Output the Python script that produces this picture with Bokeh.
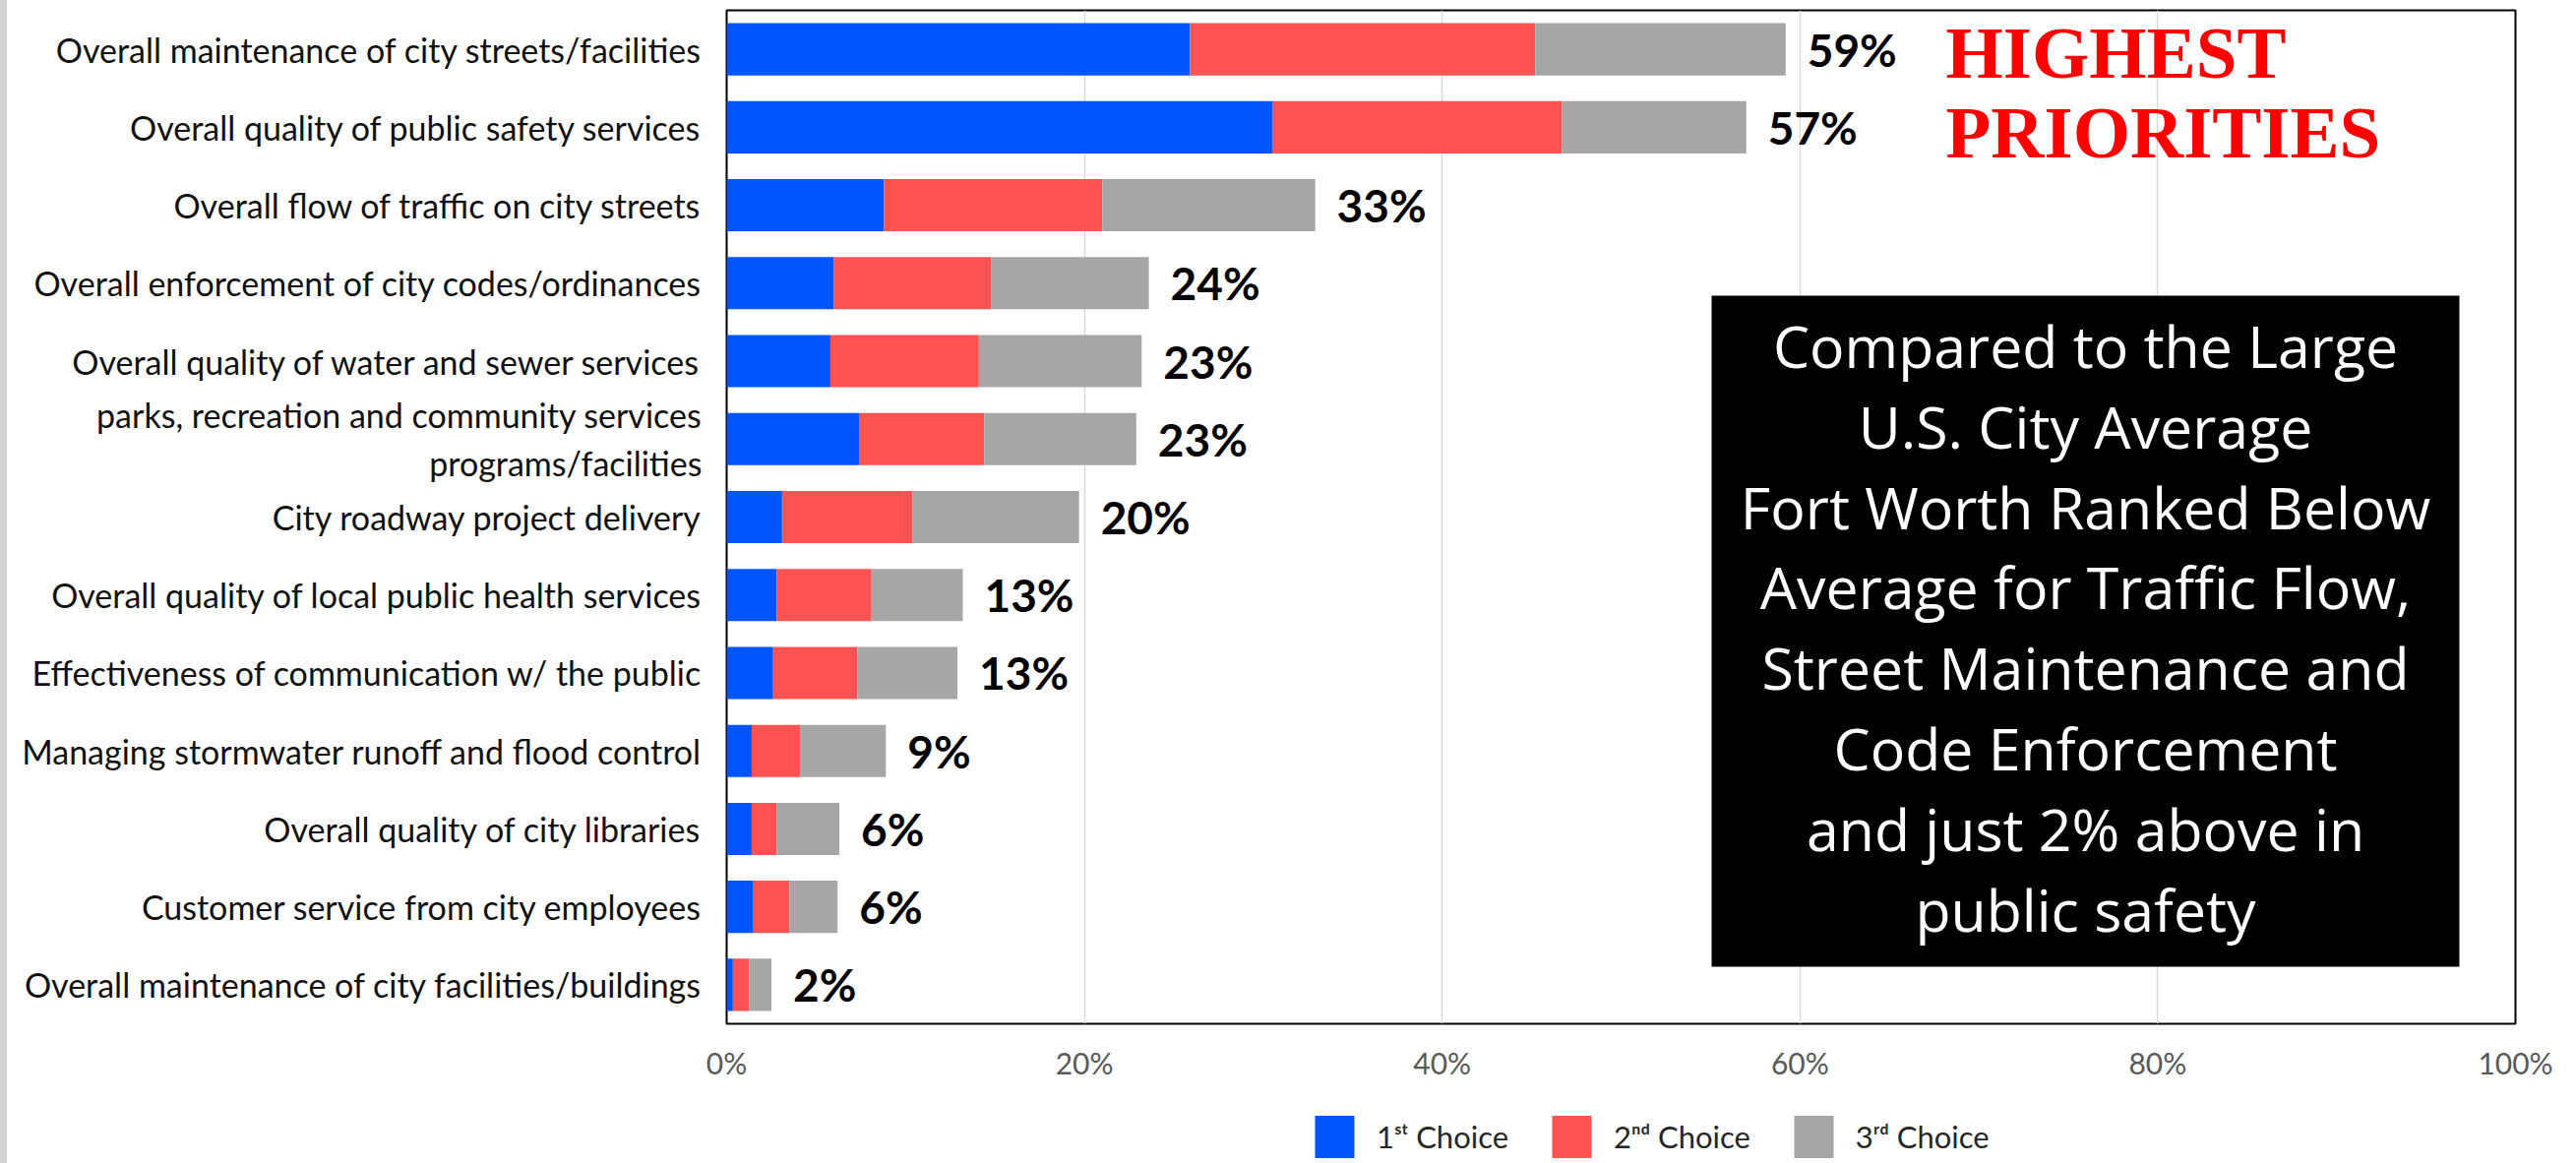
from bokeh.plotting import figure
from bokeh.models import (FactorRange, Range1d, FixedTicker, PrintfTickFormatter, Legend,
                          LegendItem, Label, BoxAnnotation, Div, ColumnDataSource)
from bokeh.layouts import row, column
from bokeh.embed import file_html
from bokeh.resources import INLINE
from bokeh.core.properties import value

categories = [
    "Overall maintenance of city streets/facilities",
    "Overall quality of public safety services",
    "Overall flow of traffic on city streets",
    "Overall enforcement of city codes/ordinances",
    "Overall quality of water and sewer services",
    "parks, recreation and community services\nprograms/facilities",
    "City roadway project delivery",
    "Overall quality of local public health services",
    "Effectiveness of communication w/ the public",
    "Managing stormwater runoff and flood control",
    "Overall quality of city libraries",
    "Customer service from city employees",
    "Overall maintenance of city facilities/buildings",
]
first_choice = [25.9, 30.5, 8.8, 6.0, 5.8, 7.4, 3.1, 2.8, 2.6, 1.4, 1.4, 1.5, 0.35]
second_choice = [19.3, 16.2, 12.2, 8.8, 8.3, 7.0, 7.3, 5.3, 4.7, 2.7, 1.4, 2.0, 0.9]
third_choice = [14.0, 10.3, 11.9, 8.8, 9.1, 8.5, 9.3, 5.1, 5.6, 4.8, 3.5, 2.7, 1.25]
total_labels = ["59%", "57%", "33%", "24%", "23%", "23%", "20%", "13%", "13%", "9%", "6%", "6%", "2%"]
x_ticks = [0, 20, 40, 60, 80, 100]
series_names = ["1\u02e2\u1d57 Choice", "2\u207f\u1d48 Choice", "3\u02b3\u1d48 Choice"]
colors = ["#0055FF", "#FF5252", "#A6A6A6"]
title_lines = ["HIGHEST", "PRIORITIES"]
box_lines = [
    "Compared to the Large",
    "U.S. City Average",
    "Fort Worth Ranked Below",
    "Average for Traffic Flow,",
    "Street Maintenance and",
    "Code Enforcement",
    "and just 2% above in",
    "public safety",
]

totals = [a + b + c for a, b, c in zip(first_choice, second_choice, third_choice)]
src = ColumnDataSource(dict(cat=categories, first=first_choice, second=second_choice,
                            third=third_choice, total=totals, label=total_labels))

p = figure(width=2611, height=1128,
           y_range=FactorRange(factors=categories[::-1]),
           x_range=Range1d(0, 100),
           output_backend="svg", toolbar_location=None,
           min_border_left=731, min_border_right=62,
           min_border_top=10, min_border_bottom=88, margin=0)
p.outline_line_color = "black"
p.outline_line_width = 2
p.background_fill_color = "white"
p.border_fill_color = "white"

renderers = p.hbar_stack(["first", "second", "third"], y="cat", height=0.67,
                         color=colors, line_color=None, source=src)

p.text(x="total", y="cat", text="label", source=src, x_offset=22,
       text_baseline="middle", text_align="left", text_font=value("Lato"),
       text_font_style="bold", text_font_size="46px", text_color="black")

# axes
p.xaxis.ticker = FixedTicker(ticks=x_ticks)
p.xaxis.formatter = PrintfTickFormatter(format="%d%%")
p.xaxis.major_tick_line_color = None
p.xaxis.minor_tick_line_color = None
p.xaxis.axis_line_color = None
p.xaxis.major_label_standoff = 15
p.xaxis.major_label_text_font = "Lato"
p.xaxis.major_label_text_font_size = "30px"
p.xaxis.major_label_text_color = "#595959"

p.yaxis.major_tick_line_color = None
p.yaxis.minor_tick_line_color = None
p.yaxis.axis_line_color = None
p.yaxis.major_label_standoff = 19
p.yaxis.major_label_text_font = "Lato"
p.yaxis.major_label_text_font_size = "34px"
p.yaxis.major_label_text_color = "#111111"

p.ygrid.grid_line_color = None
p.xgrid.grid_line_color = "#D9D9D9"
p.xgrid.grid_line_width = 1.5

# highest priorities
title_size = 75
for i, t in enumerate(title_lines):
    p.add_layout(Label(x=1239, y=957 - i * 81 + 0.4 * title_size, x_units="screen", y_units="screen",
                       text=t, text_font="Liberation Serif", text_font_style="bold",
                       text_font_size=f"{title_size}px", text_color="#FF0000",
                       text_align="left", text_baseline="alphabetic"))

# black comment box
p.add_layout(BoxAnnotation(left=1001, right=1761, top=740, bottom=58,
                           left_units="screen", right_units="screen",
                           top_units="screen", bottom_units="screen",
                           fill_color="black", fill_alpha=1, line_color=None))
box_size = 59
for i, t in enumerate(box_lines):
    p.add_layout(Label(x=1381, y=1040 - 374 - i * 81.8 + 0.4 * box_size,
                       x_units="screen", y_units="screen",
                       text=t, text_font="Open Sans", text_font_size=f"{box_size}px",
                       text_color="white", text_align="center", text_baseline="alphabetic"))

# legend strip: a small figure with zero-height copies of the stacked bars feeding the legend
leg = figure(width=2611, height=54, x_range=Range1d(1000, 1001),
             y_range=FactorRange(factors=categories[::-1]),
             x_axis_type=None, y_axis_type=None, output_backend="svg",
             toolbar_location=None, min_border=0, margin=0)
leg.outline_line_color = None
leg.background_fill_color = "white"
leg.border_fill_color = "white"
leg.grid.grid_line_color = None
leg_renderers = leg.hbar_stack(["first", "second", "third"], y="cat", height=0,
                               color=colors, line_color=None, source=src)
items = [LegendItem(label=n, renderers=[r]) for n, r in zip(series_names, leg_renderers)]
legend = Legend(items=items, orientation="horizontal", location=(593, 0),
                glyph_width=50, glyph_height=54, label_standoff=18, spacing=39,
                padding=0, margin=0, border_line_color=None, background_fill_alpha=0,
                label_text_font="Lato", label_text_font_size="31px",
                label_text_color="#262626")
leg.add_layout(legend)

strip = Div(width=7, height=1182, margin=0, styles={"background-color": "#D4D4D4"})
layout = row(strip, column(p, leg, margin=0, spacing=0), margin=0, spacing=0)

open("out.html", "w").write(file_html(layout, INLINE))
